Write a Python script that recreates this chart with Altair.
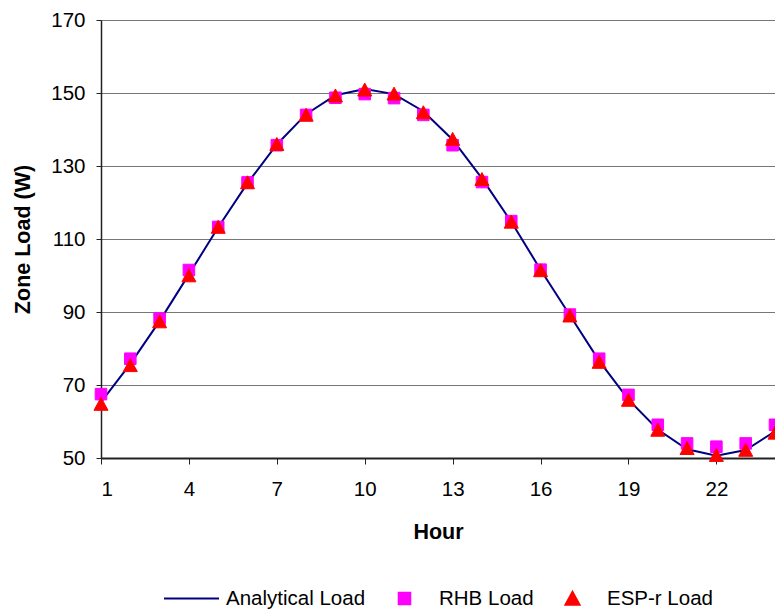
import altair as alt
import pandas as pd

hours = list(range(1, 25))
analytical = [65.3, 75.8, 87.5, 100.3, 113.2, 125.3, 135.9, 144.2, 149.4, 151.1, 149.7, 145.0,
              137.2, 126.6, 114.7, 101.6, 89.1, 76.6, 66.0, 57.8, 52.4, 50.6, 52.2, 57.3]
rhb = [67.5, 77.2, 88.2, 101.5, 113.3, 125.5, 135.7, 144.0, 148.7, 149.7, 148.6, 144.0,
       135.7, 125.6, 114.9, 101.6, 89.3, 77.2, 67.3, 59.1, 54.0, 53.1, 54.0, 59.1]
espr = [64.8, 75.4, 87.4, 100.0, 113.3, 125.5, 136.0, 144.0, 149.3, 150.9, 149.8, 144.7,
        137.4, 126.4, 114.7, 101.4, 89.0, 76.3, 65.9, 57.7, 52.7, 50.8, 52.2, 56.9]

series_names = ["Analytical Load", "RHB Load", "ESP-r Load"]
series_colors = ["#000080", "#FF00FF", "#FF0000"]
# symbol paths in the unit box [-1, 1]; long stroke for the line entry
series_shapes = [
    "M-1,0H1",
    "M-0.21,-0.21H0.21V0.21H-0.21Z",
    "M-0.255,0.23L0.255,0.23L0,-0.24Z",
]
SYMBOL_SIZE = 3025

x_ticks = [1, 4, 7, 10, 13, 16, 19, 22]
y_ticks = [50, 70, 90, 110, 130, 150, 170]

FONT = "Liberation Sans"

line_df = pd.DataFrame({"hour": hours, "load": analytical})
pts_df = pd.DataFrame({
    "hour": hours + hours,
    "load": rhb + espr,
    "series": [series_names[1]] * len(hours) + [series_names[2]] * len(hours),
})

x_enc = alt.X(
    "hour:Q",
    scale=alt.Scale(domain=[1, 24], nice=False, zero=False),
    axis=alt.Axis(
        values=x_ticks, title="Hour", grid=False,
        domainColor="#222222", domainWidth=2,
        tickColor="#222222", tickSize=6, tickWidth=1,
        labelFont=FONT, labelFontSize=20.5, labelColor="#000000",
        labelPadding=15, labelBaseline="top",
        titleFont=FONT, titleFontSize=21.5, titleFontWeight="bold", titleColor="#000000",
        titleY=74, titleBaseline="middle",
    ),
)
y_enc = alt.Y(
    "load:Q",
    scale=alt.Scale(domain=[50, 170], nice=False, zero=False),
    axis=alt.Axis(
        values=y_ticks, title="Zone Load (W)", grid=True,
        gridColor="#777777", gridWidth=1,
        domainColor="#222222", domainWidth=1.5,
        tickColor="#222222", tickSize=5, tickWidth=1,
        labelFont=FONT, labelFontSize=20.5, labelColor="#000000", labelPadding=11,
        titleFont=FONT, titleFontSize=21.5, titleFontWeight="bold", titleColor="#000000",
        titleX=-78, titleY=219, titleAngle=-90, titleAlign="center", titleBaseline="middle",
    ),
)

line = alt.Chart(line_df).mark_line(color="#000080", strokeWidth=2).encode(x=x_enc, y=y_enc)

legend = alt.Legend(
    title=None, orient="none", direction="horizontal", legendX=62, legendY=550,
    labelFont=FONT, labelFontSize=20.5, labelColor="#000000", labelOffset=6,
    columnPadding=10, symbolStrokeWidth=2, symbolOpacity=1, symbolSize=SYMBOL_SIZE,
)

points = alt.Chart(pts_df).mark_point(
    filled=True, opacity=1, strokeWidth=1, size=SYMBOL_SIZE
).encode(
    x=alt.X("hour:Q"),
    y=alt.Y("load:Q"),
    fill=alt.Fill("series:N", scale=alt.Scale(domain=series_names, range=series_colors), legend=legend),
    stroke=alt.Stroke("series:N", scale=alt.Scale(domain=series_names, range=series_colors), legend=legend),
    shape=alt.Shape("series:N", scale=alt.Scale(domain=series_names, range=series_shapes), legend=legend),
    order=alt.Order("series:N", sort="descending"),
)

chart = alt.layer(line, points).properties(
    width=674, height=438,
    autosize=alt.AutoSizeParams(type="none"),
    padding={"left": 101, "top": 20, "right": 0, "bottom": 151},
).configure_view(stroke=None).configure(background="#ffffff")

chart.save("out.html", embed_options={"renderer": "svg", "actions": False})
